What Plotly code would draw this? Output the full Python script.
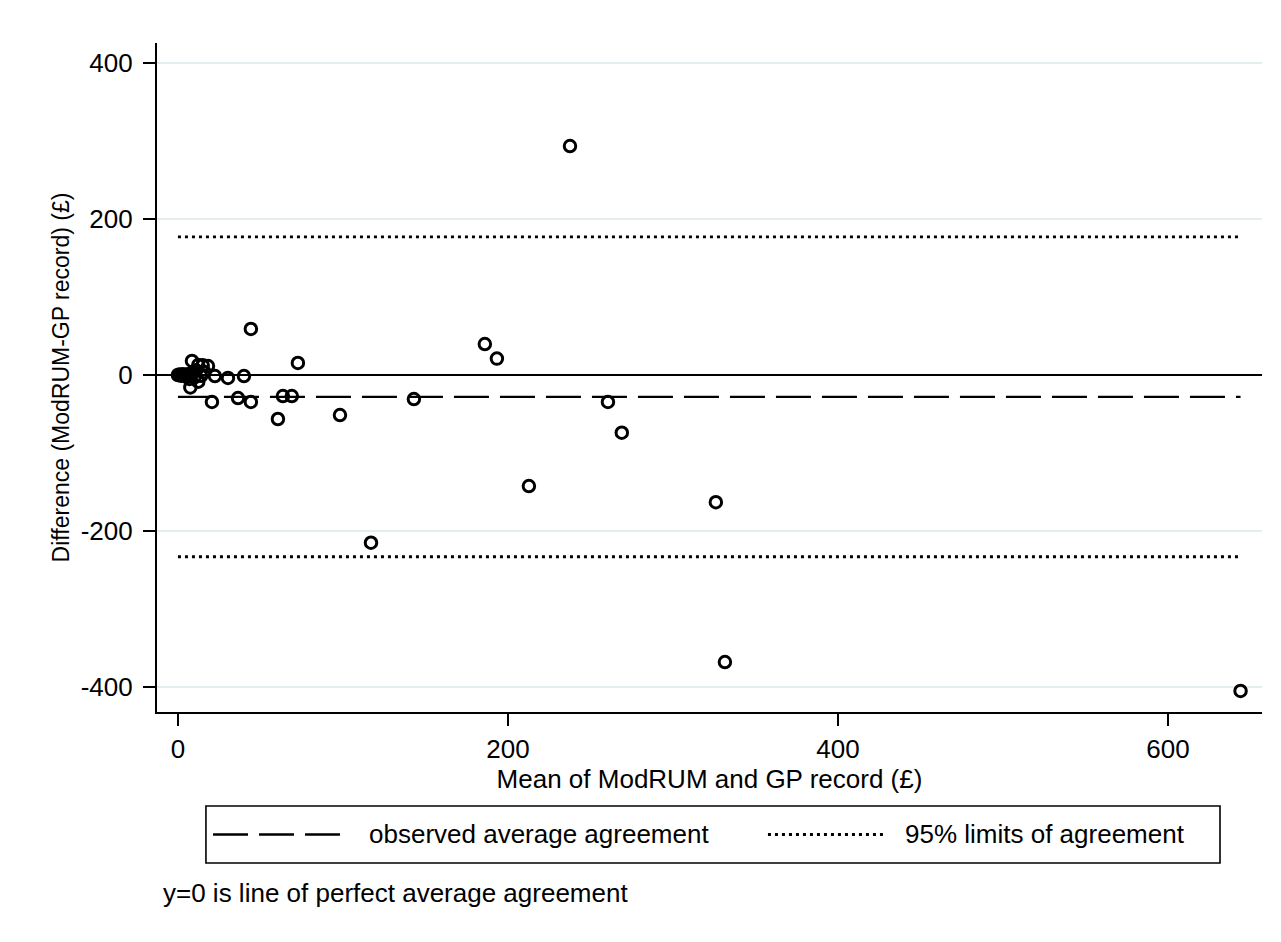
import plotly.graph_objects as go

# Bland-Altman data: mean of ModRUM and GP record (x) vs difference (y)
mean_cost = [237.6, 44.2, 186.0, 193.3, 72.7, 143.0, 98.2, 60.6, 260.6, 269.0,
             212.7, 117.0, 326.0, 331.5, 644.0, 36.4, 44.2, 40.0, 30.3, 63.6,
             69.0, 20.6, 22.4, 18.2, 15.0, 8.5, 12.3, 7.5, 12.3,
             0.0, 1.0, 2.0, 3.0, 4.0, 5.0, 6.0, 7.0, 9.0, 10.0, 11.0, 14.0, 16.0]
diff_cost = [293.5, 59.0, 39.7, 21.0, 15.4, -30.8, -51.3, -56.4, -34.6, -74.0,
             -142.3, -215.0, -163.0, -368.0, -405.0, -29.5, -34.6, -1.3, -3.8, -27.0,
             -27.0, -34.6, -1.3, 11.5, 12.5, 18.0, 12.8, -16.0, -8.6,
             0.0, 0.5, -1.0, 1.0, 0.0, -2.0, 1.0, -5.0, 3.0, -3.0, 6.0, -1.0, 4.0]

mean_diff = -28.0
loa_upper = 177.0
loa_lower = -233.0

x_ticks = [0, 200, 400, 600]
y_ticks = [-400, -200, 0, 200, 400]
y_tick_labels = ["-400", "-200", "0", "200", "400"]

legend_labels = ["observed average agreement", "95% limits of agreement"]
note_text = "y=0 is line of perfect average agreement"
x_title = "Mean of ModRUM and GP record (£)"
y_title = "Difference (ModRUM-GP record) (£)"

FONT = "Arial, Liberation Sans, sans-serif"
FS = 26

xmin, xmax = min(mean_cost), max(mean_cost)

fig = go.Figure()

# mean difference line
fig.add_trace(go.Scatter(x=[xmin, xmax], y=[mean_diff, mean_diff], mode="lines",
                         line=dict(color="black", width=2.4, dash="35px,11px"),
                         showlegend=False, hoverinfo="skip"))
# limits of agreement
for v in (loa_upper, loa_lower):
    fig.add_trace(go.Scatter(x=[xmin, xmax], y=[v, v], mode="lines",
                             line=dict(color="black", width=2.8, dash="3px,4px"),
                             showlegend=False, hoverinfo="skip"))
# points
fig.add_trace(go.Scatter(x=mean_cost, y=diff_cost, mode="markers",
                         marker=dict(symbol="circle-open", size=11.5, color="black",
                                     line=dict(color="black", width=3)),
                         showlegend=False))

# manual legend (Stata style)
box_x0, box_x1 = 0.0443, 0.962
box_y0, box_y1 = -0.2257, -0.1405
ly = (box_y0 + box_y1) / 2
fig.add_shape(type="rect", xref="paper", yref="paper", x0=box_x0, x1=box_x1,
              y0=box_y0, y1=box_y1, line=dict(color="black", width=1.6))
fig.add_shape(type="line", xref="paper", yref="paper", x0=0.0507, x1=0.1656, y0=ly, y1=ly,
              line=dict(color="black", width=2.4, dash="35px,11px"))
fig.add_shape(type="line", xref="paper", yref="paper", x0=0.5529, x1=0.6588, y0=ly, y1=ly,
              line=dict(color="black", width=2.8, dash="3px,4px"))
fig.add_annotation(xref="paper", yref="paper", x=0.1900, y=ly, text=legend_labels[0],
                   showarrow=False, xanchor="left", yanchor="middle",
                   font=dict(family=FONT, size=FS, color="black"))
fig.add_annotation(xref="paper", yref="paper", x=0.6751, y=ly, text=legend_labels[1],
                   showarrow=False, xanchor="left", yanchor="middle",
                   font=dict(family=FONT, size=FS, color="black"))
fig.add_annotation(xref="paper", yref="paper", x=0.004, y=-0.2706, text=note_text,
                   showarrow=False, xanchor="left", yanchor="middle",
                   font=dict(family=FONT, size=FS, color="black"))

fig.update_layout(
    width=1281, height=942, autosize=False,
    margin=dict(l=149, r=27, t=35, b=238),
    paper_bgcolor="white", plot_bgcolor="white",
    font=dict(family=FONT, size=FS, color="black"),
    showlegend=False,
)
fig.update_xaxes(range=[-12.7, 657], tickvals=x_ticks, ticks="outside", ticklen=12,
                 tickwidth=2.2, tickcolor="black", showline=True, linecolor="black",
                 linewidth=2.2, showgrid=False, zeroline=False,
                 ticklabelstandoff=1,
                 title=dict(text=x_title, standoff=0, font=dict(family=FONT, size=FS)))
fig.update_yaxes(range=[-432, 425.6], tickvals=y_ticks, ticktext=y_tick_labels,
                 ticks="outside", ticklen=12,
                 tickwidth=2.2, tickcolor="black", showline=True, linecolor="black",
                 linewidth=2.2, showgrid=True, gridcolor="#e4eef0", gridwidth=2.2,
                 zeroline=True, zerolinecolor="black", zerolinewidth=2.4,
                 ticklabelstandoff=5,
                 title=dict(text=y_title, standoff=5, font=dict(family=FONT, size=23)))

fig.write_html("out.html")
